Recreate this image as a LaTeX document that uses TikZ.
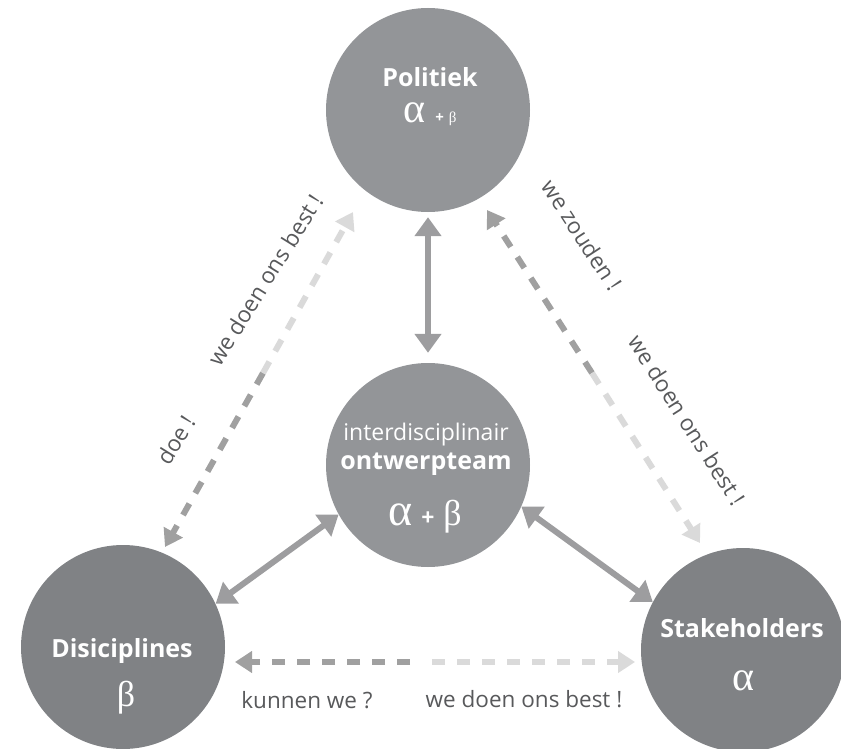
\documentclass[tikz,border=0pt]{standalone}
\usepackage{fontspec}
\setmainfont{Open Sans}
\newfontfamily\greekfont{Liberation Serif}
\usetikzlibrary{arrows.meta,calc}

\definecolor{circA}{HTML}{939598}
\definecolor{circB}{HTML}{808285}
\definecolor{linkgray}{HTML}{9D9D9F}
\definecolor{dashdark}{HTML}{A0A0A0}
\definecolor{dashlight}{HTML}{DADADA}
\definecolor{labelgray}{HTML}{58595B}

\tikzset{
  circ/.style={circle, minimum size=204pt, inner sep=0pt, draw=none},
  link/.style={line width=6pt, draw=linkgray,
    {Triangle[width=26pt,length=19pt]}-{Triangle[width=26pt,length=19pt]}},
  halfdash/.style={line width=6pt, dash pattern=on 13pt off 12pt,
    -{Triangle[width=21pt,length=17pt]}},
  lbl/.style={text=labelgray, font=\fontsize{22.5}{26}\selectfont, inner sep=0pt},
  title/.style={text=white, font=\bfseries\fontsize{25}{29}\selectfont, inner sep=0pt},
  subtitle/.style={text=white, font=\fontsize{23}{27}\selectfont, inner sep=0pt},
  glyph/.style={text=white, inner sep=0pt},
}

\begin{document}
\begin{tikzpicture}[x=1pt,y=-1pt]
\path[use as bounding box] (0,0) rectangle (841,749);

% the four circles
\node[circ, fill=circA] (pol)   at (428,110) {};
\node[circ, fill=circA] (team)  at (428,465) {};
\node[circ, fill=circB] (dis)   at (123,647) {};
\node[circ, fill=circB] (stake) at (743,650) {};

% circle texts
\node[title, anchor=base] (poltitle) at (430,87) {Politiek};
\node[glyph, anchor=base] (polgreek) at (430,123)
  {{\greekfont\fontsize{42}{44}\selectfont α}\hspace{10pt}{\bfseries\fontsize{15}{17}\selectfont +}\hspace{5pt}{\greekfont\fontsize{15}{17}\selectfont β}};

\node[subtitle, anchor=base] (teamsub) at (426,440) {interdisciplinair};
\node[title, anchor=base] (teamtitle) at (426,469) {ontwerpteam};
\node[glyph, anchor=base] (teamgreek) at (425,525)
  {{\greekfont\fontsize{46}{48}\selectfont α}\hspace{9pt}{\bfseries\fontsize{23}{25}\selectfont +}\hspace{9pt}{\greekfont\fontsize{36}{38}\selectfont β}};

\node[title, anchor=base] (distitle) at (122,657) {Disiciplines};
\node[glyph, anchor=base] (disgreek) at (126,706) {\greekfont\fontsize{36}{38}\selectfont β};

\node[title, anchor=base] (staketitle) at (742,637) {Stakeholders};
\node[glyph, anchor=base] (stakegreek) at (743,690) {\greekfont\fontsize{42}{44}\selectfont α};

% solid two-way links with the design team
\draw[link, shorten <=5pt, shorten >=10pt] (pol.270) -- (team.90);
\draw[link] (dis.25) -- (team.209);
\draw[link] (team.336) -- (stake.152);

% dashed two-way links, each half in its own tone
\coordinate (lsplit) at (263,373);
\coordinate (ltop)   at (353,212);
\coordinate (lbot)   at (165,547);
\draw[halfdash, dashdark]  (lsplit) -- (lbot);
\draw[halfdash, dashlight] (lsplit) -- (ltop);

\coordinate (rsplit) at (592,373);
\coordinate (rtop)   at (487,210);
\coordinate (rbot)   at (700,543);
\draw[halfdash, dashdark]  (rsplit) -- (rtop);
\draw[halfdash, dashlight] (rsplit) -- (rbot);

\coordinate (bsplitL) at (410,662);
\coordinate (bsplitR) at (432,662);
\coordinate (bleft)   at (235,662);
\coordinate (bright)  at (635,662);
\draw[halfdash, dashdark]  (bsplitL) -- (bleft);
\draw[halfdash, dashlight] (bsplitR) -- (bright);

% labels along the dashed links
\node[lbl, rotate=58]    (l1) at (265,280) {we doen ons best !};
\node[lbl, rotate=58]    (l2) at (176,440) {doe !};
\node[lbl, rotate=-57]   (l3) at (582,235) {we zouden !};
\node[lbl, rotate=-57.5] (l4) at (687,420) {we doen ons best !};
\node[lbl, anchor=base]  (l5) at (307,708) {kunnen we ?};
\node[lbl, anchor=base]  (l6) at (524,707) {we doen ons best !};
\end{tikzpicture}
\end{document}
